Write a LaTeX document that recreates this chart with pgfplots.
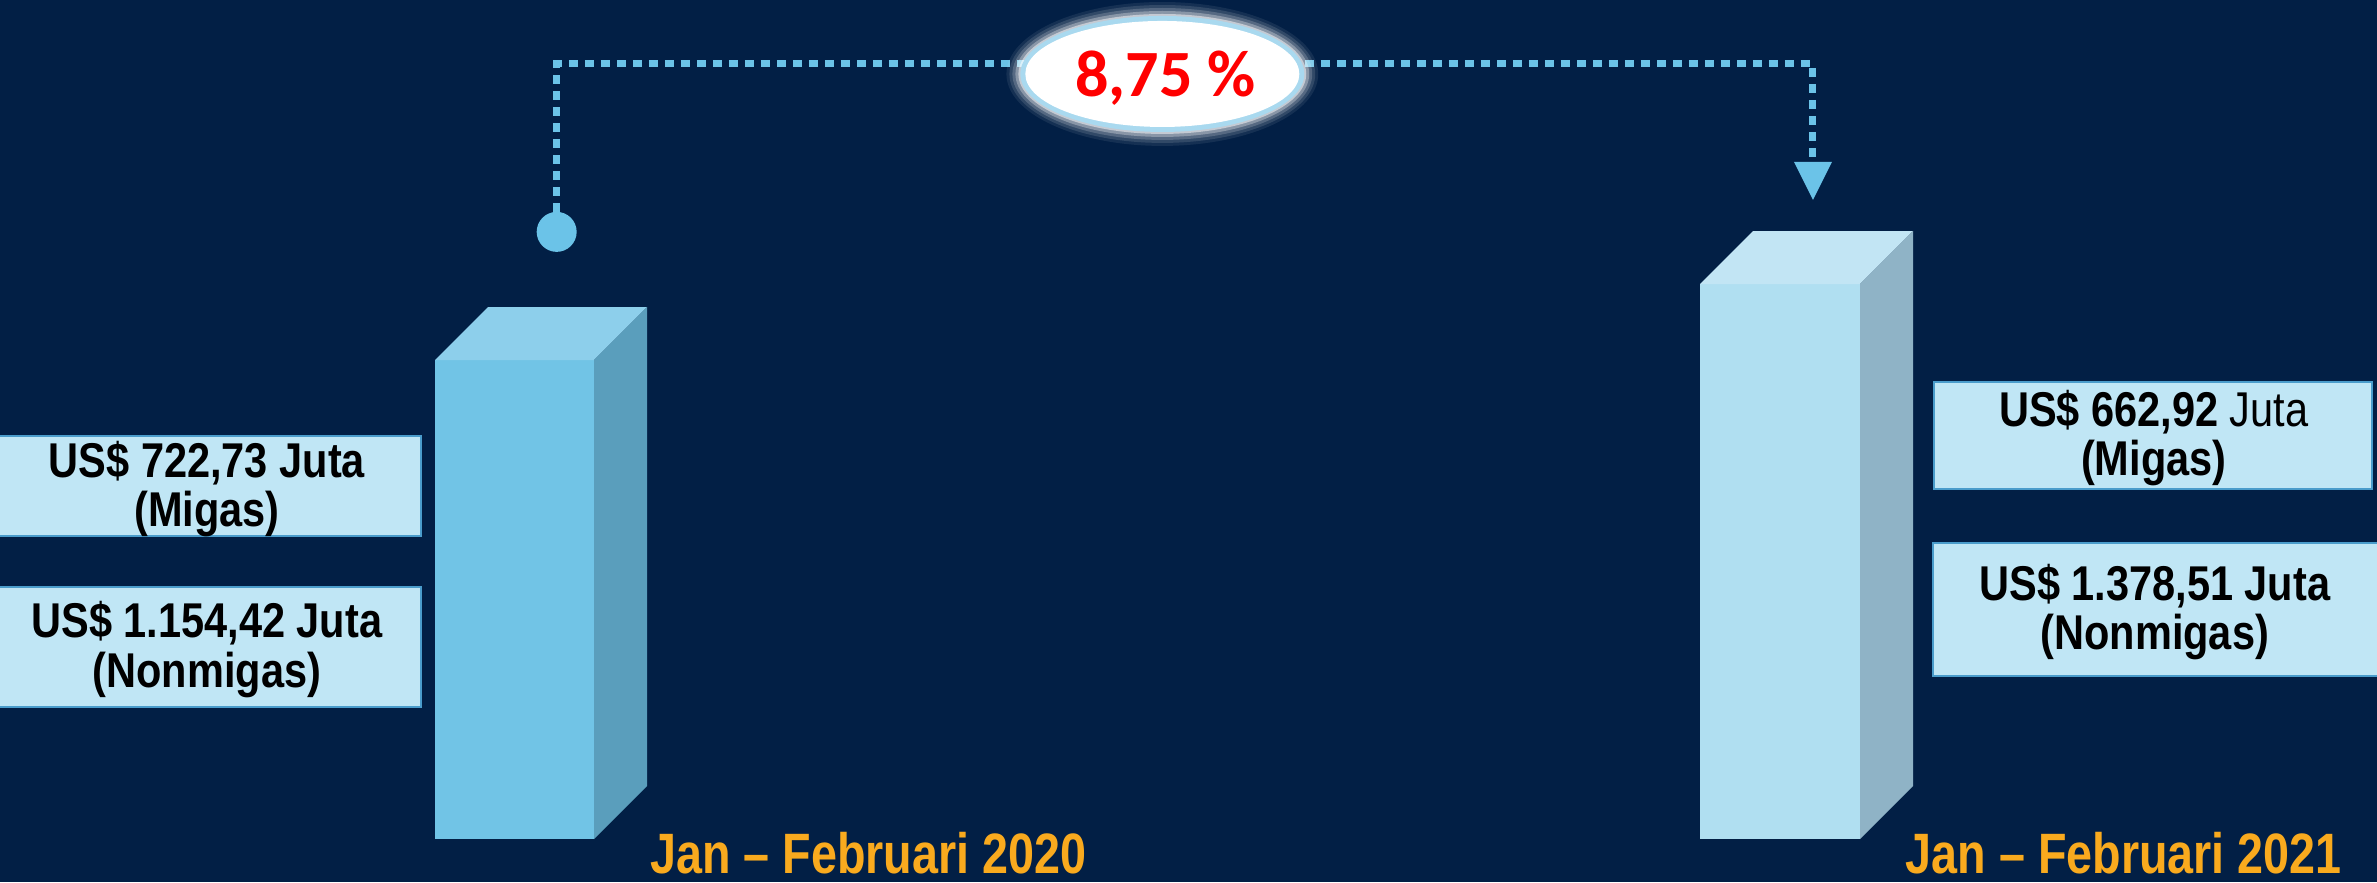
\documentclass[border=0pt]{standalone}
\usepackage{pgfplots}
\pgfplotsset{compat=1.18}
\usepackage{fontspec}
\setmainfont{Liberation Sans}
\newfontfamily\labfont[FakeStretch=0.85]{Liberation Sans}
\newfontfamily\catfont[FakeStretch=0.82]{Liberation Sans}
\newfontfamily\pctfont{Carlito}
\definecolor{bg}{HTML}{021F45}
\definecolor{aFront}{HTML}{71C4E6}
\definecolor{aTop}{HTML}{8DCFEB}
\definecolor{aSide}{HTML}{5A9EBC}
\definecolor{bFront}{HTML}{B0DFF1}
\definecolor{bTop}{HTML}{C2E5F4}
\definecolor{bSide}{HTML}{8FB3C6}
\definecolor{boxfill}{HTML}{C0E6F5}
\definecolor{boxline}{HTML}{4A9CCB}
\definecolor{dotline}{HTML}{6BC3E8}
\definecolor{ring}{HTML}{A9D9EF}
\definecolor{catcol}{HTML}{F9AA1E}
\begin{document}
\begin{tikzpicture}
\useasboundingbox (0,0) rectangle (23.77cm,8.82cm);
\clip (0,0) rectangle (23.77cm,8.82cm);
\fill[bg] (0,0) rectangle (23.77cm,8.82cm);
\begin{axis}[at={(0,0)}, anchor=south west, scale only axis,
  width=23.77cm, height=8.82cm,
  xmin=0, xmax=2377, ymin=748.75, ymax=2655.4,
  hide axis, clip=false]
% Jan-Feb 2020: total 1877.15 (722.73 Migas + 1154.42 Nonmigas)
\addplot[draw=none, fill=aFront] coordinates {(435,841.7) (594,841.7) (594,1877.15) (435,1877.15)} -- cycle;
\addplot[draw=none, fill=aTop] coordinates {(435,1877.15) (594,1877.15) (647,1991.75) (488,1991.75)} -- cycle;
\addplot[draw=none, fill=aSide] coordinates {(594,841.7) (647,956.3) (647,1991.75) (594,1877.15)} -- cycle;
% Jan-Feb 2021: total 2041.43 (662.92 Migas + 1378.51 Nonmigas)
\addplot[draw=none, fill=bFront] coordinates {(1700,841.7) (1860,841.7) (1860,2041.43) (1700,2041.43)} -- cycle;
\addplot[draw=none, fill=bTop] coordinates {(1700,2041.43) (1860,2041.43) (1913,2156.03) (1753,2156.03)} -- cycle;
\addplot[draw=none, fill=bSide] coordinates {(1860,841.7) (1913,956.3) (1913,2156.03) (1860,2041.43)} -- cycle;
\end{axis}
\begin{scope}[x=0.01cm, y=-0.01cm, shift={(0,8.82cm)}]
% connector
\draw[dotline, line width=0.07cm, dash pattern=on 0.09cm off 0.07cm] (557,212) -- (557,64) -- (1814,64) -- (1814,162);
\fill[dotline] (557,232) circle [radius=0.2cm];
\fill[dotline] (1795,162) -- (1833,162) -- (1814,200) -- cycle;
% ellipse with glow
\foreach \g/\o in {14/0.08,11/0.12,8/0.18,5/0.3,2/0.5}{
  \fill[white, opacity=\o] (1163,74) ellipse [x radius={(142+\g)*0.01cm}, y radius={(58+\g)*0.01cm}];
}
\fill[ring] (1163,74) ellipse [x radius=1.42cm, y radius=0.58cm];
\fill[white] (1163,74) ellipse [x radius=1.37cm, y radius=0.53cm];
\node[anchor=base, text=red, inner sep=0pt] at (1166,97) {\pctfont\bfseries\fontsize{18.8}{20}\selectfont 8,75 \%};
% label boxes
\filldraw[fill=boxfill, draw=boxline, line width=0.02cm] (-5,436) rectangle (421,536);
\filldraw[fill=boxfill, draw=boxline, line width=0.02cm] (-5,587) rectangle (421,707);
\filldraw[fill=boxfill, draw=boxline, line width=0.02cm] (1935,382) rectangle (2373,489);
\filldraw[fill=boxfill, draw=boxline, line width=0.02cm] (1934,543) rectangle (2385,676);
\node[align=center, inner sep=0pt, font=\labfont\bfseries\fontsize{13.9}{14}\selectfont] at (207,489) {US\$ 722,73 Juta\\(Migas)};
\node[align=center, inner sep=0pt, font=\labfont\bfseries\fontsize{13.9}{14}\selectfont] at (207,650) {US\$ 1.154,42 Juta\\(Nonmigas)};
\node[align=center, inner sep=0pt, font=\labfont\fontsize{13.9}{14}\selectfont] at (2155,438) {\textbf{US\$ 662,92} Juta\\\textbf{(Migas)}};
\node[align=center, inner sep=0pt, font=\labfont\bfseries\fontsize{13.9}{14}\selectfont] at (2156,612) {US\$ 1.378,51 Juta\\(Nonmigas)};
% category labels
\node[anchor=base, inner sep=0pt, text=catcol, font=\catfont\bfseries\fontsize{16.2}{18}\selectfont] at (869,874) {Jan – Februari 2020};
\node[anchor=base, inner sep=0pt, text=catcol, font=\catfont\bfseries\fontsize{16.2}{18}\selectfont] at (2125,874) {Jan – Februari 2021};
\end{scope}
\end{tikzpicture}
\end{document}
